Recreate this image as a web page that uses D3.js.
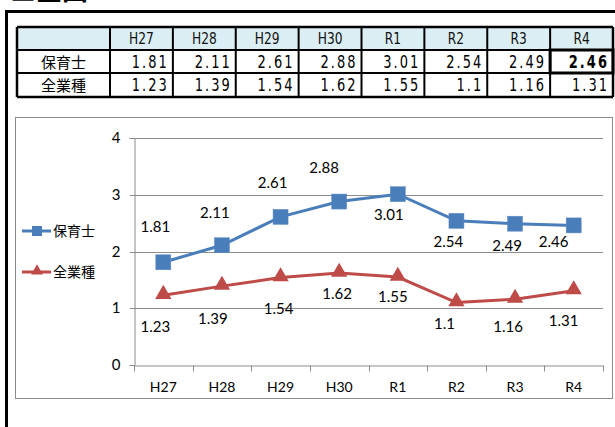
<!DOCTYPE html>
<html><head><meta charset="utf-8">
<script src="https://cdn.jsdelivr.net/npm/d3@7"></script>
<style>
html,body{margin:0;padding:0;background:#fff;}
svg{display:block;}
</style></head>
<body>
<script>
const categories = ["H27","H28","H29","H30","R1","R2","R3","R4"];
const seriesNames = ["保育士","全業種"];
const hoikushi = [1.81,2.11,2.61,2.88,3.01,2.54,2.49,2.46];
const zengyoshu = [1.23,1.39,1.54,1.62,1.55,1.1,1.16,1.31];
const tableHoikushi = ["1.81","2.11","2.61","2.88","3.01","2.54","2.49","2.46"];
const tableZengyoshu = ["1.23","1.39","1.54","1.62","1.55","1.1","1.16","1.31"];
const yTicks = [0,1,2,3,4];
// layout: data label offsets (dx, dy) relative to marker
const labelOffsetsBlue = [[-8,-35],[-7,-32],[-8,-34],[-15,-34],[-9,21],[-8,21],[-8,22],[-20,17]];
const labelOffsetsRed = [[-8,32],[-9,33],[-2,31],[-2,21],[-5,20],[-12,21],[-7,28],[-10,30]];

const W = 615, H = 427;
const svg = d3.select("body").append("svg").attr("width", W).attr("height", H);

const blue = "#4a7ebb", red = "#be4b48";
const labelFont = "Lato, 'Open Sans', sans-serif";
const cjk = "'Noto Sans CJK JP', sans-serif";
const narrow = "'DejaVu Sans Condensed', 'Liberation Sans Narrow', sans-serif";

// cut-off heading
svg.append("text").attr("x", 10).attr("y", 0).attr("font-family", cjk)
  .attr("font-size", 26).attr("font-weight", "bold").attr("fill", "#000").text("■全国");

// outer frame
svg.append("path").attr("d", "M6.5,427 V11.5 H615").attr("fill", "none")
  .attr("stroke", "#000").attr("stroke-width", 3);

// ---- table ----
const tX0 = 17, tY0 = 27, firstW = 93, colW = (613 - 110) / 8, rowH = [23, 23, 24];
const tbl = svg.append("g");
const colX = i => 110 + i * colW;
tbl.append("rect").attr("x", tX0).attr("y", tY0).attr("width", 613 - tX0).attr("height", rowH[0]).attr("fill", "#dbeef4");
const rowY = [tY0, tY0 + rowH[0], tY0 + rowH[0] + rowH[1], tY0 + rowH[0] + rowH[1] + rowH[2]];
tbl.selectAll("text.h").data(categories).join("text")
  .attr("transform", (d, i) => `translate(${colX(i) + colW / 2},${rowY[0] + 17}) scale(0.85,1)`)
  .attr("text-anchor", "middle").attr("font-family", narrow)
  .attr("font-size", 16).attr("fill", "#111").text(d => d);
const rows = [tableHoikushi, tableZengyoshu];
seriesNames.forEach((n, r) => {
  tbl.append("text").attr("x", tX0 + firstW / 2).attr("y", rowY[r + 1] + 18)
    .attr("text-anchor", "middle").attr("font-family", cjk).attr("font-size", 15).attr("fill", "#000").text(n);
  tbl.selectAll("text.v" + r).data(rows[r]).join("text")
    .attr("transform", (d, i) => `translate(${colX(i) + colW - 4},${rowY[r + 1] + 18}) scale(0.85,1)`)
    .attr("text-anchor", "end").attr("font-family", narrow)
    .attr("font-size", 17).attr("letter-spacing", 2.4)
    .attr("font-weight", (d, i) => (r === 0 && i === 7) ? "bold" : "normal")
    .attr("fill", "#000").text(d => d);
});
const tb = tbl.append("g").attr("stroke", "#000").attr("fill", "none");
rowY.forEach((y, k) => tb.append("line").attr("x1", tX0).attr("x2", 613).attr("y1", y).attr("y2", y)
  .attr("stroke-width", (k === 0 || k === 3) ? 2.5 : 2));
[tX0].concat(d3.range(9).map(colX)).forEach((x, k) => tb.append("line").attr("x1", x).attr("x2", x)
  .attr("y1", rowY[0]).attr("y2", rowY[3]).attr("stroke-width", (k === 0 || k === 9) ? 2.5 : 2));
tb.append("rect").attr("x", colX(7)).attr("y", rowY[1]).attr("width", colW).attr("height", rowH[1]).attr("stroke-width", 3);

// ---- chart ----
svg.append("rect").attr("x", 15.5).attr("y", 117.5).attr("width", 597).attr("height", 281)
  .attr("fill", "#fff").attr("stroke", "#8c8c8c").attr("stroke-width", 1);

const x = d3.scaleBand().domain(categories).range([134, 603]);
const y = d3.scaleLinear().domain([0, 4]).range([365, 138]);
const cx = d => x(d) + x.bandwidth() / 2;

const g = svg.append("g");
g.selectAll("line.grid").data(yTicks.slice(1)).join("line")
  .attr("x1", 134).attr("x2", 603).attr("y1", d => Math.round(y(d)) + 0.5).attr("y2", d => Math.round(y(d)) + 0.5)
  .attr("stroke", "#8c8c8c").attr("stroke-width", 1);

const yAxis = g.append("g").attr("transform", "translate(134.5,0)")
  .call(d3.axisLeft(y).tickValues(yTicks).tickSize(5).tickPadding(9).tickFormat(d3.format("d")));
yAxis.select(".domain").attr("stroke", "#8c8c8c");
yAxis.selectAll(".tick line").attr("stroke", "#8c8c8c");
yAxis.selectAll(".tick text").attr("font-family", labelFont).attr("font-size", 15).attr("fill", "#000");
yAxis.selectAll(".tick").attr("transform", d => `translate(0,${Math.round(y(d)) + 0.5})`);

const xAxis = g.append("g").attr("transform", `translate(0,${Math.round(y(0)) + 0.5})`)
  .call(d3.axisBottom(x).tickSize(0).tickPadding(17));
xAxis.select(".domain").attr("stroke", "#8c8c8c");
xAxis.selectAll(".tick text").attr("font-family", labelFont).attr("font-size", 14).attr("fill", "#000");
xAxis.selectAll("line.bt").data(d3.range(9)).join("line")
  .attr("x1", i => Math.round(134 + i * x.step()) + 0.5).attr("x2", i => Math.round(134 + i * x.step()) + 0.5)
  .attr("y1", 0).attr("y2", 6).attr("stroke", "#8c8c8c");

const line = d3.line().x((d, i) => cx(categories[i])).y(d => y(d));
g.append("path").datum(zengyoshu).attr("d", line).attr("fill", "none").attr("stroke", red).attr("stroke-width", 3);
g.append("path").datum(hoikushi).attr("d", line).attr("fill", "none").attr("stroke", blue).attr("stroke-width", 3);

const sq = 15;
g.selectAll("rect.m").data(hoikushi).join("rect")
  .attr("x", (d, i) => cx(categories[i]) - sq / 2).attr("y", d => y(d) - sq / 2)
  .attr("width", sq).attr("height", sq).attr("fill", blue).attr("stroke", "#5a8bc4").attr("stroke-width", 0.5);
const tri = d3.symbol().type(d3.symbolTriangle).size(115);
g.selectAll("path.t").data(zengyoshu).join("path")
  .attr("d", tri).attr("transform", (d, i) => `translate(${cx(categories[i])},${y(d) - 1})`)
  .attr("fill", red);

g.selectAll("text.lb").data(hoikushi).join("text")
  .attr("x", (d, i) => cx(categories[i]) + labelOffsetsBlue[i][0])
  .attr("y", (d, i) => y(d) + labelOffsetsBlue[i][1] + 5)
  .attr("text-anchor", "middle").attr("font-family", labelFont).attr("font-size", 15).attr("fill", "#000")
  .text(d => d);
g.selectAll("text.lr").data(zengyoshu).join("text")
  .attr("x", (d, i) => cx(categories[i]) + labelOffsetsRed[i][0])
  .attr("y", (d, i) => y(d) + labelOffsetsRed[i][1] + 5)
  .attr("text-anchor", "middle").attr("font-family", labelFont).attr("font-size", 15).attr("fill", "#000")
  .text(d => d);

const leg = svg.append("g");
[[blue, "sq", 231], [red, "tri", 272]].forEach(([c, t, ly], k) => {
  leg.append("line").attr("x1", 22).attr("x2", 51).attr("y1", ly).attr("y2", ly).attr("stroke", c).attr("stroke-width", 3);
  if (t === "sq") leg.append("rect").attr("x", 32).attr("y", ly - 5).attr("width", 10).attr("height", 10).attr("fill", c);
  else leg.append("path").attr("d", d3.symbol().type(d3.symbolTriangle).size(60)).attr("transform", `translate(37,${ly - 1})`).attr("fill", c);
  leg.append("text").attr("x", 53).attr("y", ly + 5).attr("font-family", cjk).attr("font-size", 14).attr("fill", "#000").text(seriesNames[k]);
});
</script>
</body></html>
